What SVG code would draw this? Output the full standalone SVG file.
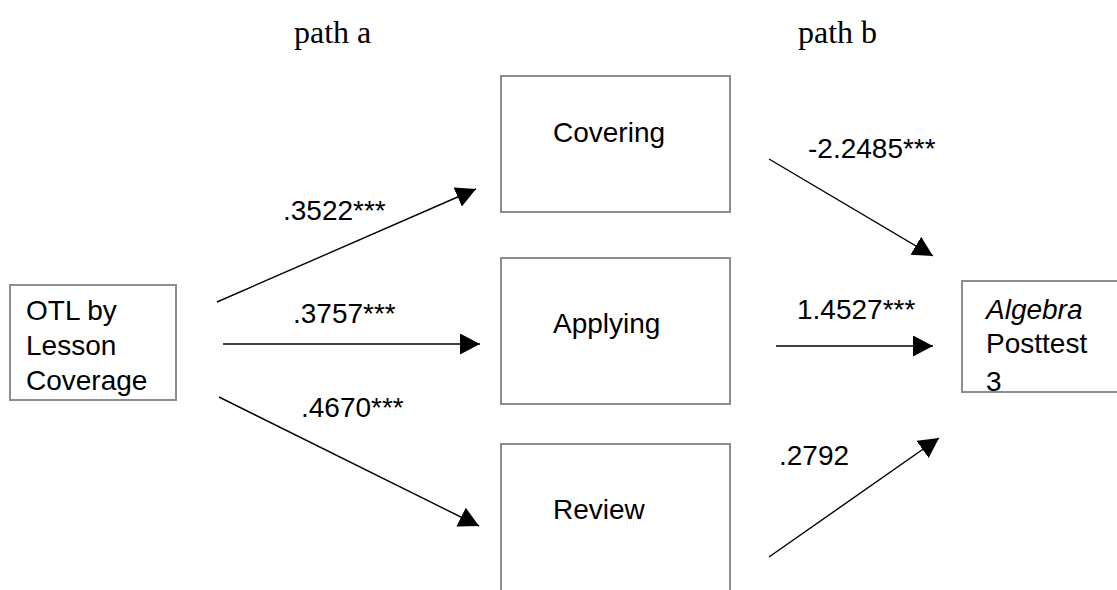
<svg xmlns="http://www.w3.org/2000/svg" width="1117" height="590" viewBox="0 0 1117 590">
<style>
.box{fill:#fff;stroke:#8a8d92;stroke-width:2}
.t{font-family:"Liberation Sans",Arial,Helvetica,sans-serif;font-size:28px;fill:#000}
.hd{font-family:"Liberation Serif","Times New Roman",serif;font-size:32px;fill:#000}
.c{stroke:#000;stroke-width:1.4;fill:none;marker-end:url(#ah)}
</style>
<defs>
<marker id="ah" markerUnits="userSpaceOnUse" markerWidth="22" markerHeight="22" refX="20" refY="10.5" orient="auto">
<path d="M0,0 L20,10.5 L0,21 Z" fill="#000"/>
</marker>
</defs>
<rect width="1117" height="590" fill="#fff"/>
<text class="hd" x="294" y="43">path a</text>
<text class="hd" x="798" y="43">path b</text>
<g id="otl">
<rect class="box" x="10" y="285" width="166" height="115"/>
<text class="t" x="26" y="320">OTL by</text>
<text class="t" x="26" y="355">Lesson</text>
<text class="t" x="26" y="390">Coverage</text>
</g>
<g id="covering">
<rect class="box" x="501" y="76" width="229" height="136"/>
<text class="t" x="553" y="142">Covering</text>
</g>
<g id="applying">
<rect class="box" x="501" y="258" width="229" height="146"/>
<text class="t" x="553" y="333">Applying</text>
</g>
<g id="review">
<rect class="box" x="501" y="444" width="229" height="160"/>
<text class="t" x="553" y="519">Review</text>
</g>
<g id="algebra">
<rect class="box" x="962" y="281" width="170" height="111"/>
<text class="t" x="986" y="319" font-style="italic">Algebra</text>
<text class="t" x="986" y="353">Posttest</text>
<text class="t" x="986" y="391">3</text>
</g>
<g id="connectors">
<line class="c" x1="217" y1="302" x2="476" y2="189"/>
<line class="c" x1="223" y1="344" x2="480" y2="344"/>
<line class="c" x1="219" y1="397" x2="479" y2="526"/>
<line class="c" x1="769" y1="159" x2="933" y2="256"/>
<line class="c" x1="776" y1="346" x2="933" y2="346"/>
<line class="c" x1="769" y1="557" x2="939" y2="438"/>
</g>
<g id="labels">
<text class="t" x="283" y="220">.3522***</text>
<text class="t" x="293" y="323">.3757***</text>
<text class="t" x="301" y="417">.4670***</text>
<text class="t" x="808" y="158">-2.2485***</text>
<text class="t" x="797" y="319">1.4527***</text>
<text class="t" x="779" y="465">.2792</text>
</g>
</svg>
